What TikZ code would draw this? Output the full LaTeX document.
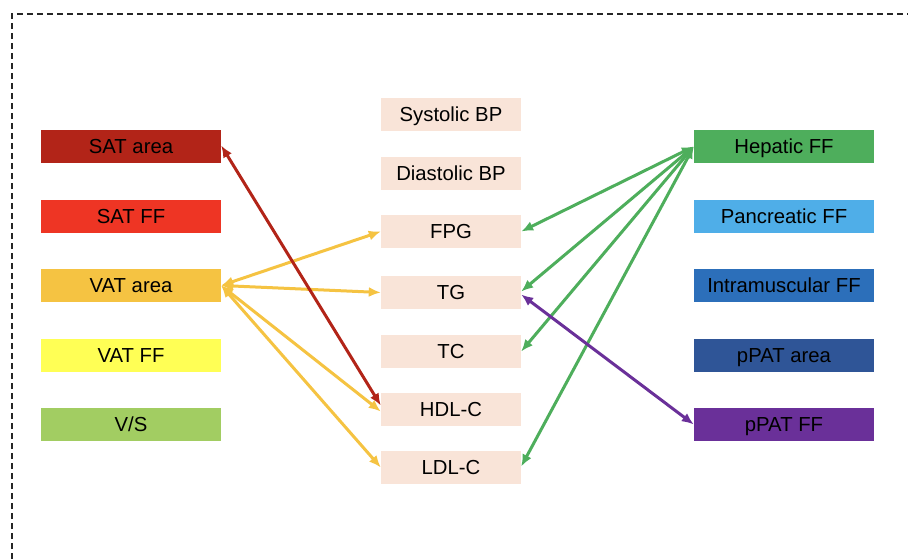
\documentclass[tikz,border=0pt]{standalone}
\usepackage{fontspec}
\setmainfont{Liberation Sans}
\usetikzlibrary{arrows.meta}
\definecolor{satarea}{HTML}{B22418}
\definecolor{satff}{HTML}{EE3524}
\definecolor{vatarea}{HTML}{F5C342}
\definecolor{vatff}{HTML}{FFFF55}
\definecolor{vs}{HTML}{A2CD62}
\definecolor{hepff}{HTML}{4EAE5C}
\definecolor{pancff}{HTML}{4FAEE8}
\definecolor{imff}{HTML}{2C6FBA}
\definecolor{ppatarea}{HTML}{2F5597}
\definecolor{ppatff}{HTML}{6A3099}
\definecolor{midbox}{HTML}{F9E4D8}
\definecolor{redline}{HTML}{B22418}
\definecolor{yelline}{HTML}{F5C342}
\definecolor{grnline}{HTML}{4EAE5C}
\definecolor{purline}{HTML}{6A3099}
\begin{document}
\begin{tikzpicture}[x=1pt,y=-1pt,
  sidebox/.style={minimum width=180pt,minimum height=33pt,inner sep=0pt,text height=14.5pt,text depth=0pt,font=\fontsize{20.3}{24}\selectfont},
  midnode/.style={fill=midbox,minimum width=140pt,minimum height=33pt,inner sep=0pt,text height=14.5pt,text depth=0pt,font=\fontsize{20.3}{24}\selectfont},
  link/.style={line width=3pt,{Latex[length=12pt,width=10pt]}-{Latex[length=12pt,width=10pt]}},
  border/.style={line width=1.4pt,dash pattern=on 6pt off 4pt,black!85}]
\useasboundingbox (0,0) rectangle (908,559);
\draw[border] (12,559) -- (12,14) -- (908,14);
% left column
\node[sidebox,fill=satarea] (satarea) at (131,146.5) {SAT area};
\node[sidebox,fill=satff] (satff) at (131,216.5) {SAT FF};
\node[sidebox,fill=vatarea] (vatarea) at (131,285.5) {VAT area};
\node[sidebox,fill=vatff] (vatff) at (131,355.5) {VAT FF};
\node[sidebox,fill=vs] (vs) at (131,424.5) {V/S};
% middle column
\node[midnode] (sbp) at (451,114.5) {Systolic BP};
\node[midnode] (dbp) at (451,173.5) {Diastolic BP};
\node[midnode] (fpg) at (451,231.5) {FPG};
\node[midnode] (tg) at (451,292.5) {TG};
\node[midnode] (tc) at (451,351.5) {TC};
\node[midnode] (hdl) at (451,409.5) {HDL-C};
\node[midnode] (ldl) at (451,467.5) {LDL-C};
% right column
\node[sidebox,fill=hepff] (hepff) at (784,146.5) {Hepatic FF};
\node[sidebox,fill=pancff] (pancff) at (784,216.5) {Pancreatic FF};
\node[sidebox,fill=imff] (imff) at (784,285.5) {Intramuscular FF};
\node[sidebox,fill=ppatarea] (ppatarea) at (784,355.5) {pPAT area};
\node[sidebox,fill=ppatff] (ppatff) at (784,424.5) {pPAT FF};
% connectors
\draw[link,yelline] (vatarea.east) -- (fpg.west);
\draw[link,yelline] (vatarea.east) -- (tg.west);
\draw[link,yelline] (vatarea.east) -- ([yshift=-2pt]hdl.west);
\draw[link,yelline] (vatarea.east) -- (ldl.west);
\draw[link,redline] ([yshift=1pt]satarea.east) -- ([yshift=4pt]hdl.west);
\draw[link,grnline] (hepff.west) -- (fpg.east);
\draw[link,grnline] (hepff.west) -- ([yshift=1pt]tg.east);
\draw[link,grnline] (hepff.west) -- (tc.east);
\draw[link,grnline] (hepff.west) -- ([yshift=1pt]ldl.east);
\draw[link,purline] ([yshift=-2pt]tg.east) -- (ppatff.west);
\end{tikzpicture}
\end{document}
